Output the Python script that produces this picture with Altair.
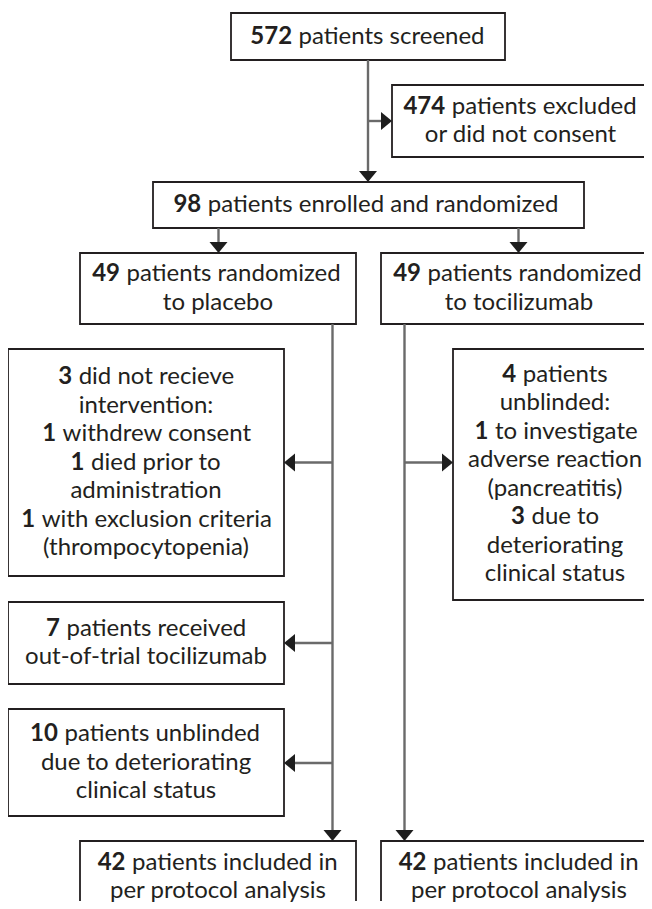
import altair as alt
import pandas as pd

# ---------------- data (text of each box: bold count + rest) ----------------
screened = [("572", "patients screened")]
excluded = [("474", "patients excluded"), ("", "or did not consent")]
enrolled = [("98", "patients enrolled and randomized")]
placebo = [("49", "patients randomized"), ("", "to placebo")]
tocilizumab = [("49", "patients randomized"), ("", "to tocilizumab")]
no_intervention = [("3", "did not recieve"), ("", "intervention:"),
                   ("1", "withdrew consent"), ("1", "died prior to"),
                   ("", "administration"), ("1", "with exclusion criteria"),
                   ("", "(thrompocytopenia)")]
unblinded_toci = [("4", "patients"), ("", "unblinded:"), ("1", "to investigate"),
                  ("", "adverse reaction"), ("", "(pancreatitis)"),
                  ("3", "due to"), ("", "deteriorating"), ("", "clinical status")]
out_of_trial = [("7", "patients received"), ("", "out-of-trial tocilizumab")]
unblinded_plac = [("10", "patients unblinded"), ("", "due to deteriorating"),
                  ("", "clinical status")]
pp_placebo = [("42", "patients included in"), ("", "per protocol analysis")]
pp_toci = [("42", "patients included in"), ("", "per protocol analysis")]

# ---------------- layout (page pixels) ----------------
boxes = [
    (screened, 231, 505, 13, 60),
    (excluded, 392, 649, 85, 157),
    (enrolled, 153, 584, 182, 228),
    (placebo, 80, 356, 253, 324),
    (tocilizumab, 381, 657, 253, 324),
    (no_intervention, 8, 284, 349, 576),
    (unblinded_toci, 453, 657, 349, 600),
    (out_of_trial, 8, 284, 602, 684),
    (unblinded_plac, 8, 284, 709, 816),
    (pp_placebo, 80, 356, 841, 913),
    (pp_toci, 381, 657, 841, 913),
]

AH_L = 11  # arrowhead length
# connectors: (x, y, x2, y2)
segments = [
    (368, 60, 368, 182 - AH_L + 2),
    (368, 121, 392 - AH_L + 2, 121),
    (218.5, 228, 218.5, 253 - AH_L + 2),
    (518.5, 228, 518.5, 253 - AH_L + 2),
    (332.5, 324, 332.5, 841 - AH_L + 2),
    (404.5, 324, 404.5, 841 - AH_L + 2),
    (332.5, 462.5, 284 + AH_L - 2, 462.5),
    (404.5, 462.5, 453 - AH_L + 2, 462.5),
    (332.5, 643, 284 + AH_L - 2, 643),
    (332.5, 763, 284 + AH_L - 2, 763),
]
DOWN = "M-1,-0.61L1,-0.61L0,0.61Z"
LEFT = "M0.61,-1L0.61,1L-0.61,0Z"
RIGHT = "M-0.61,-1L-0.61,1L0.61,0Z"
# arrow tips: (x, y, shape)
tips = [
    (368, 182, DOWN), (392, 121, RIGHT), (218.5, 253, DOWN), (518.5, 253, DOWN),
    (332.5, 841, DOWN), (404.5, 841, DOWN), (284, 462.5, LEFT), (453, 462.5, RIGHT),
    (284, 643, LEFT), (284, 763, LEFT),
]

FONT = "Lato"
FS = 24
LH = 28.5
GAP = 6.5
K = 0.936
W = dict(a=.556, b=.613, c=.49, d=.613, e=.561, f=.339, g=.548, h=.614, i=.253,
         j=.253, k=.525, l=.253, m=.93, n=.614, o=.604, p=.613, q=.613, r=.408,
         s=.477, t=.353, u=.614, v=.5, w=.778, x=.524, y=.502, z=.477)
W.update({" ": .26, "(": .296, ")": .296, ":": .267, "-": .322})
for dgt in "0123456789":
    W[dgt] = .6


def tw(s, bold=False):
    return sum(W.get(c, .55) for c in s) * FS * K * (1.03 if bold else 1.0)


rect_rows, bold_rows, reg_rows, ctr_rows = [], [], [], []
for lines, x0, x1, y0, y1 in boxes:
    rect_rows.append(dict(x=x0, x2=x1, y=y0, y2=y1))
    cx = (x0 + x1) / 2
    cy = (y0 + y1) / 2
    n = len(lines)
    for i, (b, r) in enumerate(lines):
        ly = cy + (i - (n - 1) / 2) * LH
        if b:
            wb, wr = tw(b, True), tw(r)
            split = cx - (wb + GAP + wr) / 2 + wb
            bold_rows.append(dict(x=split, y=ly, t=b))
            reg_rows.append(dict(x=split + GAP, y=ly, t=r))
        else:
            ctr_rows.append(dict(x=cx, y=ly, t=r))

seg_df = pd.DataFrame(segments, columns=["x", "y", "x2", "y2"])
tip_df = pd.DataFrame(tips, columns=["x", "y", "shape"])
# shift arrowhead center back from the tip
tip_df["cx"] = tip_df.apply(lambda r: r.x + (5.5 if r["shape"] == LEFT else -5.5 if r["shape"] == RIGHT else 0), axis=1)
tip_df["cy"] = tip_df.apply(lambda r: r.y - 5.5 if r["shape"] == DOWN else r.y, axis=1)

# page coordinates: plot area spans page x 8..644, y 8..901
xs = alt.Scale(domain=[8, 644], nice=False, zero=False)
ys = alt.Scale(domain=[8, 901], nice=False, zero=False, reverse=True)
X = lambda f: alt.X(f"{f}:Q", scale=xs, axis=None)
Y = lambda f: alt.Y(f"{f}:Q", scale=ys, axis=None)

rects = alt.Chart(pd.DataFrame(rect_rows)).mark_rect(
    fill="white", stroke="#231f20", strokeWidth=1.8, clip=True
).encode(x=X("x"), x2="x2", y=Y("y"), y2="y2")

rules = alt.Chart(seg_df).mark_rule(color="#6a6a6a", strokeWidth=2.4).encode(
    x=X("x"), x2="x2", y=Y("y"), y2="y2")

heads = alt.Chart(tip_df).mark_point(filled=True, color="#1e1e1e", opacity=1,
                                     size=324, strokeWidth=0).encode(
    x=X("cx"), y=Y("cy"), shape=alt.Shape("shape:N", scale=None, legend=None))

txt_common = dict(font=FONT, fontSize=FS, baseline="middle", color="#231f20")
t_bold = alt.Chart(pd.DataFrame(bold_rows)).mark_text(
    align="right", fontWeight="bold", **txt_common).encode(x=X("x"), y=Y("y"), text="t:N")
t_reg = alt.Chart(pd.DataFrame(reg_rows)).mark_text(
    align="left", fontWeight="normal", **txt_common).encode(x=X("x"), y=Y("y"), text="t:N")
t_ctr = alt.Chart(pd.DataFrame(ctr_rows)).mark_text(
    align="center", fontWeight="normal", **txt_common).encode(x=X("x"), y=Y("y"), text="t:N")

chart = alt.layer(rects, rules, heads, t_bold, t_reg, t_ctr).properties(
    width=636, height=893, padding=0, background="white"
).configure_view(stroke=None)

chart.save("out.html", embed_options={"renderer": "svg", "actions": False})
